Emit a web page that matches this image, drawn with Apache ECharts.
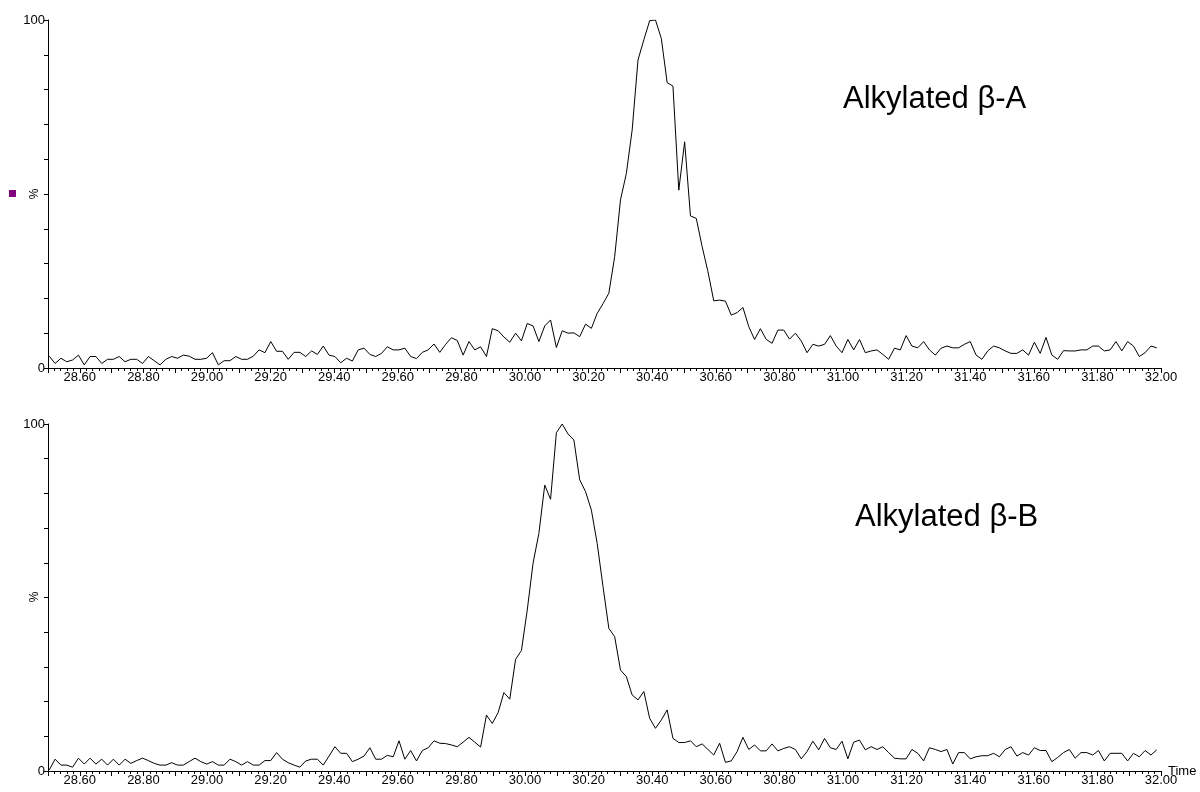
<!DOCTYPE html>
<html>
<head>
<meta charset="utf-8">
<script src="https://cdn.jsdelivr.net/npm/echarts@6/dist/echarts.min.js"></script>
<style>
  html, body { margin: 0; padding: 0; background: #fff; }
  #chart { width: 1200px; height: 792px; }
</style>
</head>
<body>
<div id="chart"></div>
<script>
// scan grid (minutes) shared by both traces
var scanStart = 28.504;
var scanStep = 0.01833;

// relative intensity (%) per scan
var traceA = [
  3.4, 1.3, 2.8, 1.8, 2.3, 3.7, 0.9, 3.3, 3.3, 1.3,
  2.5, 2.5, 3.3, 1.8, 2.5, 2.5, 1.3, 3.3, 2.1, 0.9,
  2.5, 3.3, 2.8, 3.7, 3.4, 2.5, 2.5, 2.8, 4.4, 0.9,
  2.1, 2.1, 3.3, 2.5, 2.5, 3.4, 5.2, 4.4, 7.6, 4.8,
  4.8, 2.5,
  4.5, 4.5, 3.3, 4.9, 3.9, 6.3, 3.7, 3.3, 1.5, 2.8,
  2.0, 5.2, 5.7, 3.9, 3.3, 4.2, 6.1, 5.2, 5.2, 5.7,
  3.3, 2.7, 4.5, 5.2, 6.9, 4.5, 6.8, 8.7, 7.9, 3.7,
  7.6, 5.2, 6.1, 3.3, 11.3, 10.7, 8.9, 7.4, 10.0, 7.8,
  12.8, 12.1,
  7.6, 12.1, 13.8, 5.9, 10.7, 10.0, 10.1, 9.0, 12.6, 11.4,
  15.7, 18.5, 21.5, 32, 48.3, 55.9, 68.4, 88.5, 94.3, 99.8,
  100, 94.7, 82, 81, 51.1, 65, 43.7, 43, 34.9, 27.7,
  19.3, 19.5, 19.2, 15.2, 15.9, 17.4, 11.9, 8.2, 11.3, 8.2,
  7.1,
  10.9, 10.9, 8.3, 10.0, 7.8, 4.4, 6.8, 6.3, 6.8, 9.3,
  6.3, 4.4, 8.2, 5.2, 8.2, 4.4, 4.9, 5.2, 3.9, 2.5,
  5.7, 5.2, 9.3, 6.3, 5.8, 7.6, 5.2, 3.7, 5.7, 6.3,
  5.8, 5.8, 6.8, 7.6, 3.7, 2.5, 4.9, 6.3, 5.8, 4.9,
  4.2, 4.2, 5.2, 3.7, 7.4, 4.2, 8.8, 3.7, 2.5, 5.0,
  4.9, 4.9, 5.2, 5.2, 6.3, 6.3, 4.9, 5.2, 7.6, 4.9,
  7.6, 6.3, 3.3, 4.4, 6.3, 5.8
];

var traceB = [
  0.3, 3.4, 1.7, 1.7, 1.1, 3.7, 2.0, 3.7, 2.0, 3.4,
  1.7, 3.4, 1.7, 3.4, 2.2, 3.0, 3.7, 3.0, 2.2, 1.7,
  1.7, 2.4, 1.7, 1.7, 2.7, 3.7, 2.7, 2.0, 2.7, 1.7,
  1.7, 3.4, 2.7, 1.7, 2.7, 1.7, 1.7, 3.0, 3.0, 5.3,
  3.4, 2.4,
  1.7, 1.1, 2.9, 3.4, 3.4, 1.7, 4.3, 7.0, 5.1, 5.1,
  2.7, 3.4, 4.3, 6.7, 3.4, 3.4, 4.5, 4.1, 8.7, 3.4,
  5.9, 2.9, 5.9, 6.7, 8.7,
  8.0, 7.9, 7.5, 7.0, 8.3, 9.7, 8.3, 6.9, 16.1, 13.7,
  16.8, 22.6, 20.7, 32.2, 34.7, 46.4, 59.9, 68.5, 82.4, 78.3,
  97.5, 100, 97.1, 95.4, 83.9, 80.5, 75.2, 65.6, 53.1, 41.1,
  38.7, 29.1, 27.2, 21.9, 20.5, 22.9, 15.2, 12.3, 14.7, 17.6,
  9.4, 8.2, 8.2, 8.7, 7.0, 7.8, 6.2, 4.6, 8.0, 2.5,
  2.9, 5.6, 9.7, 6.2, 7.5, 5.8, 5.8, 7.8, 5.8, 6.5,
  7.0, 6.2, 3.5, 5.6, 8.6, 6.1, 9.4, 6.7, 6.2, 8.6,
  3.5, 8.3, 8.9, 6.1, 7.0, 6.2, 7.0, 5.3, 3.7, 3.5,
  3.5, 6.2, 5.1, 2.9, 6.7, 6.2, 5.6, 6.2, 2.0, 5.3,
  5.3, 3.5, 4.1, 4.4, 4.4, 5.1, 4.1, 6.2, 7.0, 4.3,
  5.3, 4.6, 6.7, 5.9, 5.9, 2.7, 3.9, 5.3, 6.2, 3.7,
  5.3, 5.3, 4.6, 5.9, 2.9, 5.1, 5.1, 5.1, 2.9, 5.1,
  4.1, 5.9, 4.6, 6.1
];

var titleA = 'Alkylated β-A';
var titleB = 'Alkylated β-B';

function toPoints(vals) {
  return vals.map(function (v, i) {
    return [+(scanStart + i * scanStep).toFixed(4), v];
  });
}

var chart = echarts.init(document.getElementById('chart'), null, { renderer: 'canvas' });

var labelFont = { fontFamily: 'Arial', fontSize: 13, color: '#000' };

function makeX(gridIndex, showName) {
  return {
    type: 'value',
    gridIndex: gridIndex,
    min: 28.5,
    max: 32.0,
    interval: 0.1,
    name: showName ? 'Time' : '',
    nameLocation: 'end',
    nameGap: 7,
    nameMoveOverlap: false,
    nameTextStyle: { fontFamily: 'Arial', fontSize: 13, color: '#000', align: 'left', verticalAlign: 'middle' },
    axisLine: { show: true, onZero: false, lineStyle: { color: '#000', width: 1 } },
    axisTick: { show: true, length: 5, lineStyle: { color: '#000' } },
    minorTick: { show: true, splitNumber: 5, length: 3, lineStyle: { color: '#000' } },
    splitLine: { show: false },
    axisLabel: Object.assign({
      margin: 3,
      showMinLabel: true,
      showMaxLabel: true,
      formatter: function (v) {
        return Math.round(v * 10) % 2 === 0 ? v.toFixed(2) : '';
      }
    }, labelFont)
  };
}

function makeY(gridIndex) {
  return {
    type: 'value',
    gridIndex: gridIndex,
    min: 0,
    max: 100,
    interval: 10,
    axisLine: { show: true, lineStyle: { color: '#000', width: 1 } },
    axisTick: { show: true, length: 4, lineStyle: { color: '#000' } },
    splitLine: { show: false },
    axisLabel: Object.assign({
      margin: 3,
      formatter: function (v) {
        return (v === 0 || v === 100) ? String(v) : '';
      }
    }, labelFont)
  };
}

function makeSeries(idx, vals) {
  return {
    type: 'line',
    xAxisIndex: idx,
    yAxisIndex: idx,
    data: toPoints(vals),
    showSymbol: false,
    symbol: 'none',
    lineStyle: { color: '#000', width: 1 },
    silent: true
  };
}

function percentLabel(y) {
  return {
    type: 'text',
    x: 35, y: y,
    rotation: Math.PI / 2,
    style: { text: '%', font: '12px Arial', fill: '#000', align: 'center', verticalAlign: 'middle' }
  };
}

var option = {
  backgroundColor: '#fff',
  animation: false,
  grid: [
    { left: 48, right: 39, top: 20, height: 348, containLabel: false, outerBoundsMode: 'none' },
    { left: 48, right: 39, top: 424, height: 347, containLabel: false, outerBoundsMode: 'none' }
  ],
  xAxis: [makeX(0, false), makeX(1, true)],
  yAxis: [makeY(0), makeY(1)],
  series: [makeSeries(0, traceA), makeSeries(1, traceB)],
  graphic: [
    {
      type: 'rect',
      shape: { x: 9, y: 190, width: 7, height: 7 },
      style: { fill: '#800080' }
    },
    percentLabel(194),
    percentLabel(597),
    {
      type: 'text',
      x: 843, y: 84,
      style: { text: titleA, font: '31px Arial', fill: '#000', verticalAlign: 'alphabetic', textBaseline: 'alphabetic' }
    },
    {
      type: 'text',
      x: 855, y: 502,
      style: { text: titleB, font: '31px Arial', fill: '#000', verticalAlign: 'alphabetic', textBaseline: 'alphabetic' }
    }
  ]
};

chart.setOption(option);
</script>
</body>
</html>
